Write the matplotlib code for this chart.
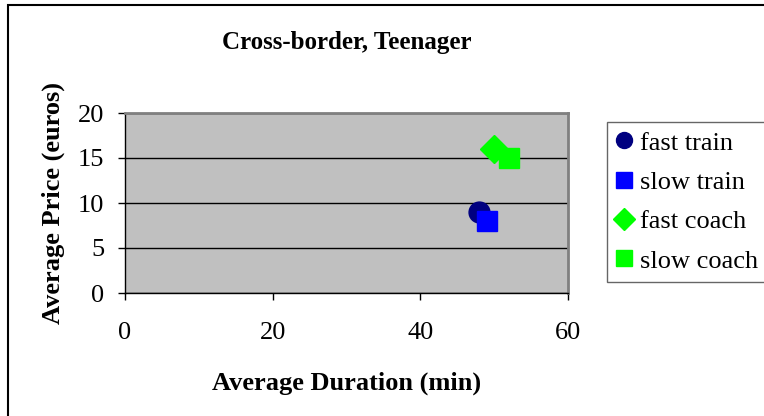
import matplotlib
matplotlib.use("Agg")
import matplotlib.pyplot as plt
from matplotlib.patches import Rectangle

plt.rcParams['font.family'] = ['Liberation Serif', 'DejaVu Serif']

series_names = ["fast train", "slow train", "fast coach", "slow coach"]
durations = [48, 49, 50, 52]
prices = [9, 8, 16, 15]
colors = ["#000080", "#0000FF", "#00FF00", "#00FF00"]
markers = ["o", "s", "D", "s"]
marker_sizes = [15, 15, 14, 14.5]
x_ticks = [0, 20, 40, 60]
y_ticks = [0, 5, 10, 15, 20]

W, H = 764, 416
fig = plt.figure(figsize=(W / 100, H / 100), dpi=100)
fig.patch.set_facecolor("white")

# outer chart border (left and top edges visible, rest cut off)
fig.patches.append(Rectangle((8 / W, -0.1), 2, 1.1 - 5 / H, transform=fig.transFigure,
                             fill=False, edgecolor="black", linewidth=1.5))

ax = fig.add_axes([125 / W, (H - 293) / H, (568 - 125) / W, (293 - 113) / H])
ax.set_facecolor("#C0C0C0")
ax.set_xlim(0, 60)
ax.set_ylim(0, 20)
ax.set_xticks(x_ticks)
ax.set_yticks(y_ticks)
ax.yaxis.grid(True, color="black", linewidth=1)
ax.set_axisbelow(True)
for s in ["top", "right"]:
    ax.spines[s].set_color("#808080")
    ax.spines[s].set_linewidth(2)
for s in ["left", "bottom"]:
    ax.spines[s].set_color("black")
    ax.spines[s].set_linewidth(1)
ax.tick_params(direction="out", length=5, width=1, labelsize=19)
ax.tick_params(axis="x", pad=16)
ax.tick_params(axis="y", pad=10)

for name, x, y, c, m, ms in zip(series_names, durations, prices, colors, markers, marker_sizes):
    ax.plot([x], [y], linestyle="none", marker=m, color=c, markersize=ms,
            markeredgecolor=c, label=name, clip_on=False)

ax.set_title("Cross-border, Teenager", fontsize=18, fontweight="bold", pad=46)
ax.set_xlabel("Average Duration (min)", fontsize=19, fontweight="bold", labelpad=20)
ax.set_ylabel("Average Price (euros)", fontsize=19, fontweight="bold", labelpad=9)

leg = ax.legend(loc="upper left", bbox_to_anchor=(607 / W, (H - 122) / H),
                bbox_transform=fig.transFigure, fontsize=19, frameon=True,
                fancybox=False, edgecolor="#404040", handletextpad=0.3,
                handlelength=0.6, labelspacing=0.6, borderpad=0.35,
                borderaxespad=0)
leg.get_frame().set_linewidth(1)
for h in leg.legend_handles:
    h.set_markersize(11.5)

fig.savefig("out.png", dpi=100, facecolor="white")
